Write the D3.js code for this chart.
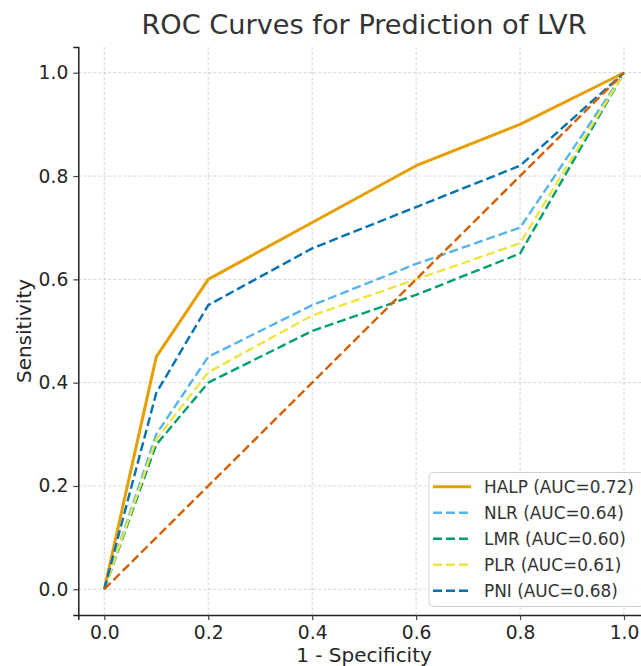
<!DOCTYPE html>
<html>
<head>
<meta charset="utf-8">
<script src="https://cdn.jsdelivr.net/npm/d3@7"></script>
<style>
  html, body { margin: 0; padding: 0; background: #fff; }
  svg { display: block; font-family: "DejaVu Sans", sans-serif; }
</style>
</head>
<body>
<svg id="chart" width="641" height="666"></svg>
<script>
// ---- data ----
const fpr = [0, 0.1, 0.2, 0.4, 0.6, 0.8, 1.0];
const halp = [0, 0.45, 0.60, 0.71, 0.82, 0.90, 1.0];
const nlr  = [0, 0.30, 0.45, 0.55, 0.63, 0.70, 1.0];
const lmr  = [0, 0.28, 0.40, 0.50, 0.57, 0.65, 1.0];
const plr  = [0, 0.29, 0.42, 0.53, 0.60, 0.67, 1.0];
const pni  = [0, 0.38, 0.55, 0.66, 0.74, 0.82, 1.0];
const seriesNames = ["HALP", "NLR", "LMR", "PLR", "PNI"];
const aucs = [0.72, 0.64, 0.60, 0.61, 0.68];
const diagX = [0, 1];
const diagY = [0, 1];
const tickValues = [0, 0.2, 0.4, 0.6, 0.8, 1.0];

const colors = ["#E69F00", "#56B4E9", "#009E73", "#F0E442", "#0072B2"];
const diagColor = "#D55E00";
const seriesVals = [halp, nlr, lmr, plr, pni];

const svg = d3.select("#chart");
const x = d3.scaleLinear().domain([-0.05, 1.05]).range([78.3, 650]);
const y = d3.scaleLinear().domain([-0.05, 1.05]).range([615.1, 46.9]);

// grid
const grid = svg.append("g");
grid.selectAll("line.vx").data(tickValues).join("line")
  .attr("x1", d => x(d)).attr("x2", d => x(d))
  .attr("y1", y(-0.05)).attr("y2", y(1.05))
  .attr("stroke", "#cfcfcf").attr("stroke-width", 0.9).attr("stroke-dasharray", "3,2");
grid.selectAll("line.hy").data(tickValues).join("line")
  .attr("y1", d => y(d)).attr("y2", d => y(d))
  .attr("x1", x(-0.05)).attr("x2", x(1.05))
  .attr("stroke", "#cfcfcf").attr("stroke-width", 0.9).attr("stroke-dasharray", "3,2");

// lines
const line = d3.line().x(d => x(d[0])).y(d => y(d[1]));
const plot = svg.append("g");
seriesVals.forEach((vals, i) => {
  const pts = fpr.map((f, j) => [f, vals[j]]);
  plot.append("path").datum(pts)
    .attr("d", line)
    .attr("fill", "none")
    .attr("stroke", colors[i])
    .attr("stroke-width", i === 0 ? 3 : 2.4)
    .attr("stroke-linejoin", "round")
    .attr("stroke-dasharray", i === 0 ? null : "9,4");
});
plot.append("path").datum(diagX.map((d, j) => [d, diagY[j]]))
  .attr("d", line).attr("fill", "none")
  .attr("stroke", diagColor).attr("stroke-width", 2.4)
  .attr("stroke-dasharray", "9,4");

// axes
const fmt = d3.format(".1f");
const xAxis = svg.append("g").attr("transform", `translate(0,${y(-0.05)})`)
  .call(d3.axisBottom(x).tickValues(tickValues).tickFormat(fmt).tickSizeOuter(0).tickSize(5).tickPadding(6));
const yAxis = svg.append("g").attr("transform", `translate(${x(-0.05)},0)`)
  .call(d3.axisLeft(y).tickValues(tickValues).tickFormat(fmt).tickSizeOuter(0).tickSize(5).tickPadding(5));
[xAxis, yAxis].forEach(a => {
  a.select(".domain").attr("stroke", "#222").attr("stroke-width", 1.5);
  a.selectAll(".tick line").attr("stroke", "#444").attr("stroke-width", 1.2);
  a.selectAll(".tick text").attr("fill", "#262626").style("font-size", "18.7px")
    .style("font-family", "'DejaVu Sans', sans-serif");
});

// title and labels
svg.append("text").attr("x", 364).attr("y", 33.5).attr("text-anchor", "middle")
  .attr("fill", "#333").style("font-size", "27.2px").text("ROC Curves for Prediction of LVR");
svg.append("text").attr("x", 364).attr("y", 662).attr("text-anchor", "middle")
  .attr("fill", "#262626").style("font-size", "20px").text("1 - Specificity");
svg.append("text").attr("transform", `translate(31,331) rotate(-90)`).attr("text-anchor", "middle")
  .attr("fill", "#262626").style("font-size", "20px").text("Sensitivity");

// legend
const leg = svg.append("g");
leg.append("rect").attr("x", 429).attr("y", 472.5).attr("width", 215).attr("height", 134)
  .attr("rx", 4).attr("fill", "rgba(255,255,255,0.85)").attr("stroke", "#d0d0d0").attr("stroke-width", 1);
const legY = d3.scaleLinear().domain([0, 4]).range([486.8, 590.7]);
seriesNames.forEach((name, i) => {
  leg.append("line").attr("x1", 433).attr("x2", 471).attr("y1", legY(i)).attr("y2", legY(i))
    .attr("stroke", colors[i]).attr("stroke-width", i === 0 ? 3 : 2.4)
    .attr("stroke-dasharray", i === 0 ? null : "9,4");
  leg.append("text").attr("x", 484).attr("y", legY(i)).attr("dy", "0.35em")
    .attr("fill", "#333").style("font-size", "16.9px").text(`${name} (AUC=${aucs[i].toFixed(2)})`);
});
</script>
</body>
</html>
